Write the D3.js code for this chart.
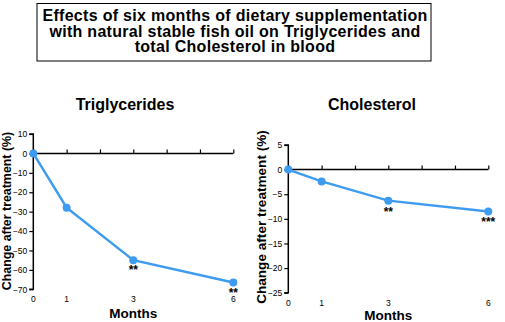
<!DOCTYPE html>
<html><head><meta charset="utf-8">
<script src="https://cdn.jsdelivr.net/npm/d3@7"></script>
<style>body{margin:0;background:#fff}svg{display:block}text{font-family:"Liberation Sans",Arial,sans-serif}</style>
</head><body>
<script>
const titleLines = ["Effects of six months of dietary supplementation","with natural stable fish oil on Triglycerides and","total Cholesterol in blood"];
const months = [0, 1, 3, 6];
const monthTicks = [0, 1, 2, 3, 4, 5, 6];
const monthLabels = ["0", "1", "3", "6"];
const trigValues = [0, -28, -55, -66.5];
const trigSig = ["", "", "**", "**"];
const trigTicks = [10, 0, -10, -20, -30, -40, -50, -60, -70];
const cholValues = [0, -2.4, -6.3, -8.5];
const cholSig = ["", "", "**", "***"];
const cholTicks = [5, 0, -5, -10, -15, -20, -25];

const W = 505, H = 322, color = "#3d9bf0";
const svg = d3.select("body").append("svg").attr("width", W).attr("height", H);

// title box
svg.append("rect").attr("x", 37).attr("y", 3.5).attr("width", 394).attr("height", 57.5)
  .attr("fill", "none").attr("stroke", "#000").attr("stroke-width", 1);
svg.selectAll("text.title").data(titleLines).join("text").attr("class","title")
  .attr("x", 235).attr("y", (d,i) => 21 + i*15.5).attr("text-anchor","middle")
  .attr("font-size", 16).attr("letter-spacing", 0.3).attr("font-weight","bold").text(d => d);

function panel(o) {
  const x = d3.scaleLinear().domain([0, 6]).range([o.x0, o.x0 + 200]);
  const y = d3.scaleLinear().domain(o.yDomain).range(o.yRange);
  const g = svg.append("g");
  g.append("text").attr("x", o.titleX).attr("y", 110).attr("text-anchor","middle")
    .attr("font-size", 16).attr("font-weight","bold").text(o.title);
  // y axis
  const ya = g.append("g").attr("transform", `translate(${x(0)},0)`)
    .call(d3.axisLeft(y).tickValues(o.ticks).tickSize(4).tickPadding(2).tickFormat(d3.format("d")));
  ya.select(".domain").attr("stroke-width", 1.5).attr("d", `M-4,${y(o.yDomain[1])}H0V${y(o.yDomain[0])}H-4`);
  ya.selectAll(".tick line").attr("stroke-width", 1.2);
  ya.selectAll(".tick text").attr("font-size", 8.5).attr("font-family","Liberation Sans, Arial, sans-serif").attr("fill","#000");
  // x axis line at zero with upward ticks
  const xa = g.append("g").attr("transform", `translate(0,${y(0)})`)
    .call(d3.axisTop(x).tickValues(monthTicks).tickSize(4).tickFormat(""));
  xa.select(".domain").attr("stroke-width", 1.5).attr("d", `M${x(0)},0H${x(6)}`);
  xa.selectAll(".tick line").attr("stroke-width", 1.2);
  // bottom month labels
  g.selectAll("text.ml").data(months).join("text").attr("class","ml")
    .attr("x", d => x(d)).attr("y", o.yRange[0] + 13).attr("text-anchor","middle")
    .attr("font-size", 8.5).text((d,i) => monthLabels[i]);
  g.append("text").attr("x", x(3)).attr("y", o.monthsY).attr("text-anchor","middle")
    .attr("font-size", 13.5).attr("font-weight","bold").text("Months");
  g.append("text").attr("transform", `translate(${o.ylx},${o.ylc}) rotate(-90)`).attr("text-anchor","middle")
    .attr("font-size", o.ylfs).attr("font-weight","bold").text("Change after treatment (%)");
  // line
  const pts = months.map((m,i) => [m, o.values[i]]);
  g.append("path").datum(pts).attr("fill","none").attr("stroke", color).attr("stroke-width", 2.5)
    .attr("d", d3.line().x(d => x(d[0])).y(d => y(d[1])));
  g.selectAll("circle").data(pts).join("circle").attr("cx", d => x(d[0])).attr("cy", d => y(d[1]))
    .attr("r", 4).attr("fill", color);
  g.selectAll("text.sig").data(pts).join("text").attr("class","sig")
    .attr("x", d => x(d[0])).attr("y", d => y(d[1]) + o.sigOff).attr("text-anchor","middle")
    .attr("font-size", 12).attr("font-weight","bold").text((d,i) => o.sig[i]);
}

panel({x0: 33.3, yDomain: [-70, 10], yRange: [289.3, 134], ticks: trigTicks, values: trigValues, sig: trigSig,
  title: "Triglycerides", titleX: 125, ylx: 11, ylc: 211, ylfs: 12.4, sigOff: 14, monthsY: 317.5});
panel({x0: 288.3, yDomain: [-25, 5], yRange: [292.7, 145], ticks: cholTicks, values: cholValues, sig: cholSig,
  title: "Cholesterol", titleX: 372, ylx: 266, ylc: 217, ylfs: 13.6, sigOff: 15, monthsY: 319.5});
</script>
</body></html>
